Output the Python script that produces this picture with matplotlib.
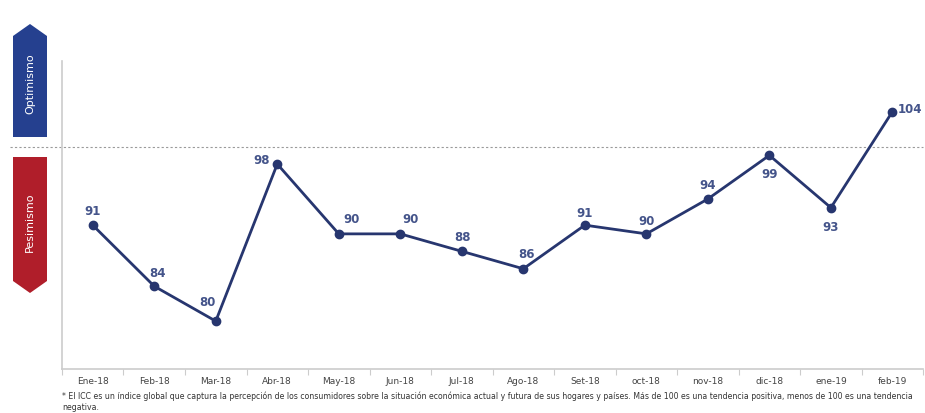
import matplotlib
matplotlib.use("Agg")
import matplotlib.pyplot as plt
from matplotlib.patches import Polygon

months = ["Ene-18", "Feb-18", "Mar-18", "Abr-18", "May-18", "Jun-18", "Jul-18",
          "Ago-18", "Set-18", "oct-18", "nov-18", "dic-18", "ene-19", "feb-19"]
icc = [91, 84, 80, 98, 90, 90, 88, 86, 91, 90, 94, 99, 93, 104]
# label offsets in pixels (dx, dy)
offsets = [(0, 15), (3, 14), (-8, 20), (-16, 5), (13, 15), (10, 15), (1, 15),
           (3, 15), (0, 13), (0, 13), (0, 14), (0, -18), (0, -19), (18, 3)]

c_line = "#27366f"
c_label = "#44548a"
c_blue = "#25408f"
c_red = "#b01e2a"

fig = plt.figure(figsize=(9.25, 4.14), dpi=100)
fig.patch.set_facecolor("white")
ax = fig.add_axes([0.067, 0.106, 0.931, 0.744])

x = list(range(len(months)))
ax.plot(x, icc, "-o", color=c_line, linewidth=2.0, markersize=6, zorder=3)

for xi, v, (dx, dy) in zip(x, icc, offsets):
    ax.annotate(str(v), (xi, v), xytext=(dx, dy), textcoords="offset pixels",
                ha="center", va="center", fontsize=8.5, fontweight="bold",
                color=c_label)

ax.set_xlim(-0.5, 13.5)
ax.set_ylim(74.5, 109.8)
ax.axhline(100, xmin=-0.06, xmax=1.0, color="#9a9a9a", linestyle=(0, (2, 2)),
           linewidth=0.8, clip_on=False, zorder=1)

ax.set_yticks([])
ax.set_xticks([i - 0.5 for i in range(len(months) + 1)], minor=False)
ax.set_xticklabels([])
ax.set_xticks(x, minor=True)
ax.set_xticklabels(months, minor=True, fontsize=6.5, color="#444444")
ax.tick_params(axis="x", which="major", length=4, color="#cccccc")
ax.tick_params(axis="x", which="minor", length=0, pad=5)
for s in ["top", "right"]:
    ax.spines[s].set_visible(False)
for s in ["left", "bottom"]:
    ax.spines[s].set_color("#cccccc")
    ax.spines[s].set_linewidth(1.2)

# Optimismo / Pesimismo banners (pixel coords -> figure fraction)
W, H = 925, 414
def fpts(pts):
    return [(px / W, 1 - py / H) for px, py in pts]

blue = Polygon(fpts([(13, 138), (13, 37), (30, 25), (47, 37), (47, 138)]),
               closed=True, transform=fig.transFigure, facecolor=c_blue,
               edgecolor="none")
red = Polygon(fpts([(13, 158), (47, 158), (47, 282), (30, 294), (13, 282)]),
              closed=True, transform=fig.transFigure, facecolor=c_red,
              edgecolor="none")
fig.add_artist(blue)
fig.add_artist(red)
fig.text(30 / W, 1 - 84 / H, "Optimismo", rotation=90, ha="center",
         va="center", color="white", fontsize=8)
fig.text(30 / W, 1 - 222 / H, "Pesimismo", rotation=90, ha="center",
         va="center", color="white", fontsize=8)

note = ("* El ICC es un índice global que captura la percepción de los consumidores "
        "sobre la situación económica actual y futura de sus hogares y países. "
        "Más de 100 es una tendencia positiva, menos de 100 es una tendencia\nnegativa.")
fig.text(62 / W, 1 - 392 / H, note, ha="left", va="top", fontsize=5.6,
         color="#333333", linespacing=1.2)

fig.savefig("out.png", dpi=100, facecolor="white")
